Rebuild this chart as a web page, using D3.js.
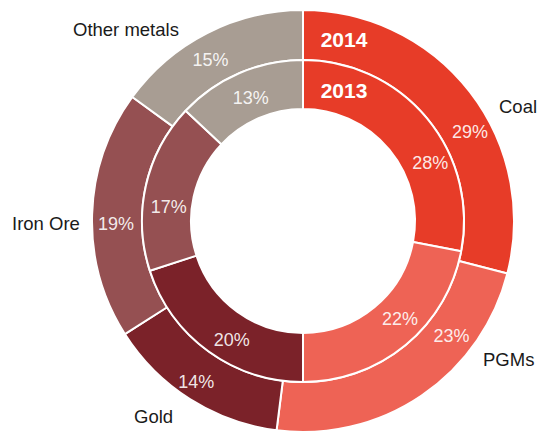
<!DOCTYPE html>
<html>
<head>
<meta charset="utf-8">
<script src="https://cdn.jsdelivr.net/npm/d3@7"></script>
<style>
  html, body { margin: 0; padding: 0; background: #fff; }
  svg { display: block; }
  text { font-family: "Liberation Sans", Arial, sans-serif; }
</style>
</head>
<body>
<svg id="chart" width="539" height="432"></svg>
<script>
// Share of output by commodity, two years as nested rings
const categories = ["Coal", "PGMs", "Gold", "Iron Ore", "Other metals"];
const values2014 = [29, 23, 14, 19, 15];   // outer ring
const values2013 = [28, 22, 20, 17, 13];   // inner ring
const years = ["2014", "2013"];

const colors = ["#E73C28", "#EE6355", "#7B2229", "#955052", "#A89D93"];

const width = 539, height = 432;
const cx = 303, cy = 221;
const rHole = 112, rMid = 161, rOuter = 211;

const svg = d3.select("#chart");
const g = svg.append("g").attr("transform", `translate(${cx},${cy})`);

const pie = d3.pie().sort(null).value(d => d.value);
const color = d3.scaleOrdinal().domain(categories).range(colors);

const rings = [
  { key: years[0], values: values2014, inner: rMid, outer: rOuter },
  { key: years[1], values: values2013, inner: rHole, outer: rMid }
];

// label nudges (px) applied to each arc's centroid
const pctNudge = {
  "2014": [[20, 31], [44, -33], [-7, 10], [-1, 15], [-8, 11]],
  "2013": [[22, 35], [10, -1], [9, 15], [-1, 22], [2, 8]]
};

rings.forEach(ring => {
  const arcs = pie(categories.map((c, i) => ({ cat: c, value: ring.values[i] })));
  const arc = d3.arc().innerRadius(ring.inner).outerRadius(ring.outer);
  const mid = d3.arc().innerRadius((ring.inner + ring.outer) / 2)
                      .outerRadius((ring.inner + ring.outer) / 2);

  g.append("g").selectAll("path")
    .data(arcs)
    .join("path")
    .attr("d", arc)
    .attr("fill", d => color(d.data.cat))
    .attr("stroke", "#fff")
    .attr("stroke-width", 2)
    .attr("stroke-linejoin", "round");

  g.append("g").selectAll("text")
    .data(arcs)
    .join("text")
    .attr("x", (d, i) => mid.centroid(d)[0] + pctNudge[ring.key][i][0])
    .attr("y", (d, i) => mid.centroid(d)[1] + pctNudge[ring.key][i][1])
    .attr("text-anchor", "middle")
    .attr("font-size", 18)
    .attr("fill", "#fff")
    .attr("fill-opacity", 0.9)
    .text(d => d.data.value + "%");
});

// year captions at the top of each ring
const yearY = [47, 98];
svg.append("g").selectAll("text")
  .data(years)
  .join("text")
  .attr("x", 344)
  .attr("y", (d, i) => yearY[i])
  .attr("text-anchor", "middle")
  .attr("font-size", 21)
  .attr("font-weight", "bold")
  .attr("fill", "#fff")
  .text(d => d);

// category names around the outside
const namePos = [[499, 113], [483, 366], [134, 423], [12, 230], [73, 36]];
svg.append("g").selectAll("text")
  .data(categories)
  .join("text")
  .attr("x", (d, i) => namePos[i][0])
  .attr("y", (d, i) => namePos[i][1])
  .attr("font-size", 18.5)
  .attr("fill", "#1a1a1a")
  .text(d => d);
</script>
</body>
</html>
